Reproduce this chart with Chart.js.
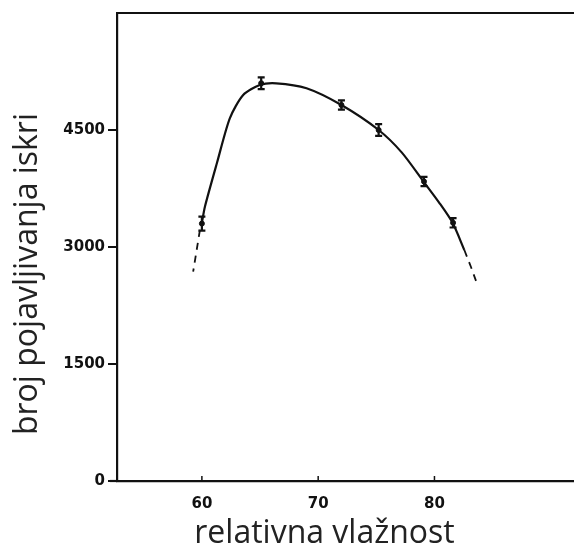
<!DOCTYPE html>
<html>
<head>
<meta charset="utf-8">
<script src="https://cdn.jsdelivr.net/npm/chart.js@4"></script>
<style>
html,body{margin:0;padding:0;background:#fff;}
#wrap{width:574px;height:547px;position:relative;}
</style>
</head>
<body>
<div id="wrap"><canvas id="c"></canvas></div>
<script>
// ---- data ----
const curveX = [60.0, 60.26, 61.3, 62.4, 63.55, 64.98, 66.4, 69.0, 72.0, 75.2, 77.2, 79.07, 80.4, 81.56, 82.57];
const curveY = [3310, 3517, 4080, 4650, 4949, 5077, 5099, 5035, 4820, 4500, 4210, 3837, 3570, 3310, 2961];
const dashLeftX = [59.83, 59.25];
const dashLeftY = [3218, 2683];
const dashRightX = [82.57, 83.15, 83.7];
const dashRightY = [2961, 2740, 2513];
const measX = [60.0, 65.1, 72.0, 75.2, 79.1, 81.6];
const measY = [3300, 5100, 4820, 4500, 3840, 3310];
const measErr = [90, 75, 60, 75, 60, 60];
const xTicks = [60, 70, 80];
const yTicks = [0, 1500, 3000, 4500];
const xTitle = 'relativna vlažnost';
const yTitle = 'broj pojavljivanja iskri';

const toPts = (xs, ys) => xs.map((x, i) => ({x: x, y: ys[i]}));

const extras = {
  id: 'extras',
  afterDatasetsDraw(chart) {
    const {ctx, chartArea, scales} = chart;
    const xs = scales.x, ys = scales.y;
    ctx.save();
    ctx.strokeStyle = '#111';
    // error bars
    ctx.lineWidth = 2.2;
    measX.forEach((x, i) => {
      const px = xs.getPixelForValue(x);
      const top = ys.getPixelForValue(measY[i] + measErr[i]);
      const bot = ys.getPixelForValue(measY[i] - measErr[i]);
      ctx.beginPath();
      ctx.moveTo(px, top); ctx.lineTo(px, bot);
      ctx.moveTo(px - 3.5, top); ctx.lineTo(px + 3.5, top);
      ctx.moveTo(px - 3.5, bot); ctx.lineTo(px + 3.5, bot);
      ctx.stroke();
    });
    // top frame line
    ctx.lineWidth = 2.2;
    ctx.beginPath();
    ctx.moveTo(chartArea.left, chartArea.top);
    ctx.lineTo(chartArea.right, chartArea.top);
    ctx.stroke();
    // x axis stub slightly left of the y axis
    ctx.beginPath();
    ctx.moveTo(chartArea.left - 7, chartArea.bottom);
    ctx.lineTo(chartArea.left, chartArea.bottom);
    ctx.stroke();
    // small inward x tick marks
    ctx.lineWidth = 1.5;
    xTicks.forEach(v => {
      const px = xs.getPixelForValue(v);
      ctx.beginPath();
      ctx.moveTo(px, chartArea.bottom);
      ctx.lineTo(px, chartArea.bottom - 5);
      ctx.stroke();
    });
    // axis titles
    ctx.fillStyle = '#222';
    ctx.font = '32px "Open Sans"';
    ctx.textAlign = 'center';
    ctx.textBaseline = 'alphabetic';
    ctx.fillText(xTitle, 324.5, 543);
    ctx.save();
    ctx.translate(37, 274);
    ctx.rotate(-Math.PI / 2);
    ctx.fillText(yTitle, 0, 0);
    ctx.restore();
    ctx.restore();
  }
};

new Chart(document.getElementById('c'), {
  type: 'scatter',
  data: {
    datasets: [
      {
        data: toPts(curveX, curveY),
        showLine: true,
        borderColor: '#111',
        borderWidth: 2.2,
        pointRadius: 0,
        tension: 0.25,
        fill: false
      },
      {
        data: toPts(dashLeftX, dashLeftY),
        showLine: true,
        borderColor: '#111',
        borderWidth: 1.8,
        borderDash: [7, 6],
        pointRadius: 0
      },
      {
        data: toPts(dashRightX, dashRightY),
        showLine: true,
        borderColor: '#111',
        borderWidth: 1.8,
        borderDash: [7, 6],
        pointRadius: 0
      },
      {
        data: toPts(measX, measY),
        showLine: false,
        pointRadius: 2.5,
        pointBackgroundColor: '#111',
        pointBorderColor: '#111'
      }
    ]
  },
  options: {
    responsive: true,
    maintainAspectRatio: false,
    animation: false,
    layout: {autoPadding: false, padding: {left: 0, right: 0, top: 13, bottom: 0}},
    plugins: {legend: {display: false}, tooltip: {enabled: false}},
    scales: {
      x: {
        type: 'linear',
        min: 52.7,
        max: 92,
        afterBuildTicks: s => { s.ticks = xTicks.map(v => ({value: v})); },
        afterFit: s => { s.height = 66; },
        grid: {display: true, drawOnChartArea: false, drawTicks: false, tickLength: 0},
        border: {display: true, color: '#111', width: 2.2},
        ticks: {color: '#111', padding: 14, font: {family: 'DejaVu Sans', size: 15, weight: 'bold'}, maxRotation: 0,
                callback: v => String(v)},
        title: {display: false, text: xTitle}
      },
      y: {
        type: 'linear',
        min: 0,
        max: 6000,
        afterBuildTicks: s => { s.ticks = yTicks.map(v => ({value: v})); },
        afterFit: s => { s.width = 117; },
        grid: {display: true, drawOnChartArea: false, drawTicks: true, tickLength: 9, color: '#111', lineWidth: 2},
        border: {display: true, color: '#111', width: 2.2},
        ticks: {color: '#111', padding: 3, font: {family: 'DejaVu Sans', size: 15, weight: 'bold'},
                callback: v => String(v)},
        title: {display: false, text: yTitle}
      }
    }
  },
  plugins: [extras]
});
</script>
</body>
</html>
